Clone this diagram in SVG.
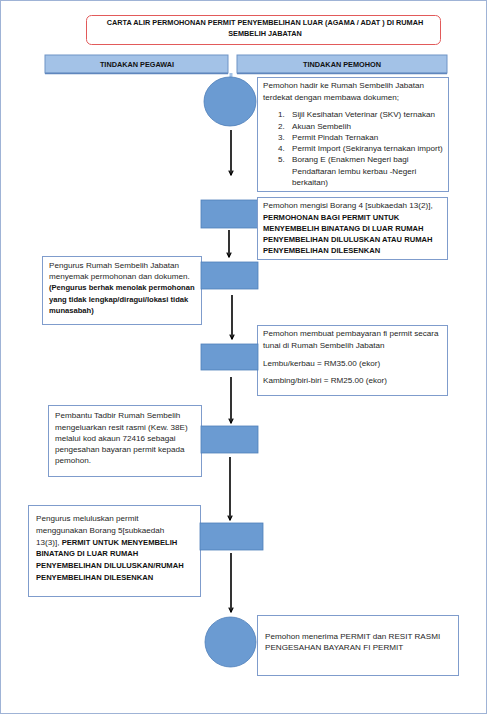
<svg xmlns="http://www.w3.org/2000/svg" width="487" height="714" viewBox="0 0 487 714">
<defs>
<style>
text{font-family:"Liberation Sans",Arial,sans-serif;font-size:8.1px;fill:#262626}
.b{font-weight:bold;font-size:7.6px;fill:#111}
.h{font-weight:bold;font-size:7.3px;fill:#111;text-anchor:middle}
.box{fill:#fff;stroke:#7f9ccc;stroke-width:1}
.blk{fill:#6b9bd2;stroke:#4f7fb9;stroke-width:0.8}
.hdr{fill:#a3c2e7;stroke:#6f94c6;stroke-width:1}
.ar{stroke:#000;stroke-width:1.6;fill:none}
</style>
<marker id="ah" viewBox="0 0 10 10" refX="9" refY="5" markerWidth="5.5" markerHeight="5.5" orient="auto" markerUnits="userSpaceOnUse">
<path d="M1,1 L9,5 L1,9" fill="none" stroke="#000" stroke-width="2.2"/>
</marker>
</defs>
<rect x="0.5" y="0.5" width="486" height="713" fill="#fff" stroke="#9fb3d6" stroke-width="1"/>

<g id="title">
<rect x="86.5" y="15.5" width="354" height="29" rx="5" fill="#fff" stroke="#e25a5a" stroke-width="1"/>
<text class="h" x="265" y="25">CARTA ALIR PERMOHONAN PERMIT PENYEMBELIHAN LUAR (AGAMA / ADAT ) DI RUMAH</text>
<text class="h" x="265" y="36">SEMBELIH JABATAN</text>
</g>

<g id="hdr-pegawai">
<rect class="hdr" x="45" y="55" width="183" height="18"/>
<line x1="45" y1="73.5" x2="228" y2="73.5" stroke="#5f86bd" stroke-width="1.5"/>
<text class="h" x="137" y="66.5">TINDAKAN PEGAWAI</text>
</g>
<g id="hdr-pemohon">
<rect class="hdr" x="237" y="55" width="210" height="18"/>
<line x1="237" y1="73.5" x2="447" y2="73.5" stroke="#5f86bd" stroke-width="1.5"/>
<text class="h" x="342" y="66.5">TINDAKAN PEMOHON</text>
</g>

<g id="connectors">
<line x1="231" y1="73" x2="231" y2="78" stroke="#a3c2e7" stroke-width="3"/>
<line class="ar" x1="231" y1="130" x2="231" y2="175" marker-end="url(#ah)"/>
<line class="ar" x1="229" y1="230" x2="229" y2="257" marker-end="url(#ah)"/>
<line class="ar" x1="232" y1="295" x2="232" y2="339" marker-end="url(#ah)"/>
<line class="ar" x1="231" y1="377" x2="231" y2="423" marker-end="url(#ah)"/>
<line class="ar" x1="230" y1="457" x2="230" y2="520" marker-end="url(#ah)"/>
<line class="ar" x1="231" y1="553" x2="231" y2="612" marker-end="url(#ah)"/>
</g>

<g id="start">
<ellipse class="blk" cx="230" cy="101.5" rx="26" ry="24.5"/>
</g>
<g id="step1">
<rect class="box" x="257.5" y="77.5" width="191" height="114"/>
<text x="263" y="88">Pemohon hadir ke Rumah Sembelih Jabatan</text>
<text x="263" y="100">terdekat dengan membawa dokumen;</text>
<text x="278" y="117">1.</text><text x="292" y="117">Sijil Kesihatan Veterinar  (SKV) ternakan</text>
<text x="278" y="129">2.</text><text x="292" y="129">Akuan Sembelih</text>
<text x="278" y="140">3.</text><text x="292" y="140">Permit Pindah Ternakan</text>
<text x="278" y="151">4.</text><text x="292" y="151">Permit Import (Sekiranya ternakan import)</text>
<text x="278" y="162">5.</text><text x="292" y="162">Borang E (Enakmen Negeri bagi</text>
<text x="292" y="174">Pendaftaran lembu kerbau -Negeri</text>
<text x="292" y="185">berkaitan)</text>
</g>

<g id="step2">
<rect class="blk" x="201" y="200" width="57" height="28"/>
<rect class="box" x="257.5" y="197.5" width="190" height="62"/>
<text x="263" y="208">Pemohon mengisi Borang 4 [subkaedah 13(2)],</text>
<text class="b" x="263" y="220">PERMOHONAN BAGI PERMIT UNTUK</text>
<text class="b" x="263" y="231">MENYEMBELIH BINATANG DI LUAR RUMAH</text>
<text class="b" x="263" y="242">PENYEMBELIHAN DILULUSKAN ATAU RUMAH</text>
<text class="b" x="263" y="253">PENYEMBELIHAN DILESENKAN</text>
</g>

<g id="step3">
<rect class="box" x="42.5" y="256.5" width="159" height="68"/>
<rect class="blk" x="201" y="262" width="57" height="27"/>
<text x="49" y="268">Pengurus Rumah Sembelih Jabatan</text>
<text x="49" y="279">menyemak permohonan dan dokumen.</text>
<text class="b" x="49" y="290">(Pengurus berhak menolak permohonan</text>
<text class="b" x="49" y="302">yang tidak lengkap/diragui/lokasi tidak</text>
<text class="b" x="49" y="313">munasabah)</text>
</g>

<g id="step4">
<rect class="box" x="257.5" y="325.5" width="190" height="70"/>
<rect class="blk" x="201" y="344" width="57" height="26"/>
<text x="263" y="336">Pemohon membuat pembayaran fi permit secara</text>
<text x="263" y="348">tunai di Rumah Sembelih Jabatan</text>
<text x="263" y="366">Lembu/kerbau = RM35.00 (ekor)</text>
<text x="263" y="383">Kambing/biri-biri = RM25.00 (ekor)</text>
</g>

<g id="step5">
<rect class="box" x="48.5" y="405.5" width="153" height="71"/>
<rect class="blk" x="201" y="426" width="57" height="27"/>
<text x="55" y="418">Pembantu Tadbir Rumah Sembelih</text>
<text x="55" y="430">mengeluarkan resit rasmi (Kew. 38E)</text>
<text x="55" y="441">melalui kod akaun 72416 sebagai</text>
<text x="55" y="452">pengesahan bayaran permit kepada</text>
<text x="55" y="463">pemohon.</text>
</g>

<g id="step6">
<rect class="box" x="28.5" y="505.5" width="172" height="91"/>
<rect class="blk" x="200" y="523" width="63" height="27"/>
<text x="36" y="521">Pengurus meluluskan permit</text>
<text x="36" y="533">menggunakan Borang 5[subkaedah</text>
<text x="36" y="545">13(3)], <tspan class="b">PERMIT UNTUK MENYEMBELIH</tspan></text>
<text class="b" x="36" y="556">BINATANG DI LUAR RUMAH</text>
<text class="b" x="36" y="568">PENYEMBELIHAN DILULUSKAN/RUMAH</text>
<text class="b" x="36" y="580">PENYEMBELIHAN DILESENKAN</text>
</g>

<g id="end">
<ellipse class="blk" cx="230.5" cy="642" rx="25.5" ry="25"/>
<rect class="box" x="257.5" y="615.5" width="201" height="60"/>
<text x="265" y="639">Pemohon menerima PERMIT dan RESIT RASMI</text>
<text x="265" y="650">PENGESAHAN BAYARAN FI PERMIT</text>
</g>
</svg>
